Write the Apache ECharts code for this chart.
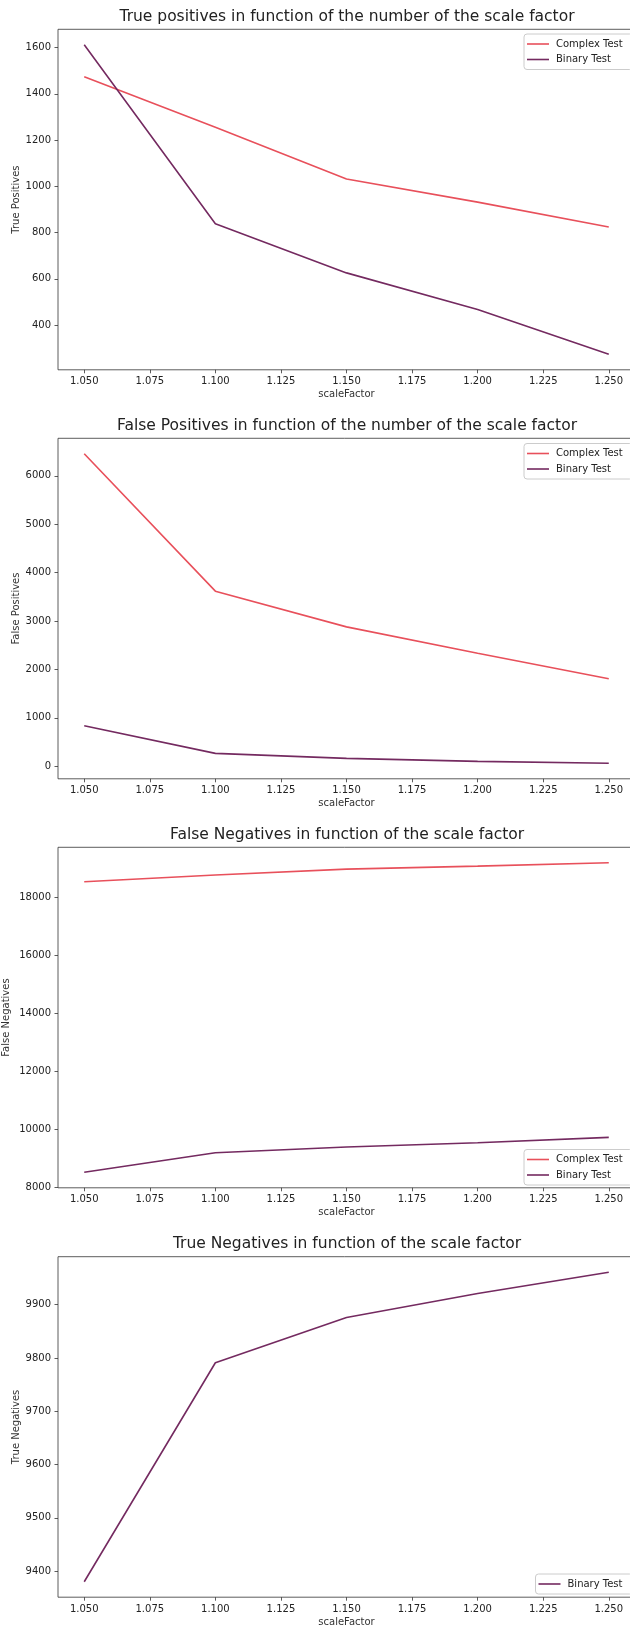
<!DOCTYPE html>
<html>
<head>
<meta charset="utf-8">
<script src="https://cdn.jsdelivr.net/npm/echarts@6/dist/echarts.min.js"></script>
<style>
html,body{margin:0;padding:0;background:#fff;}
#c{width:630px;height:1628px;}
</style>
</head>
<body>
<div id="c"></div>
<script>
// ---- data ----
const scaleFactor = [1.05, 1.10, 1.15, 1.20, 1.25];
const tpComplex = [1474, 1255, 1032, 932, 824];
const tpBinary  = [1612, 838, 626, 468, 274];
const fpComplex = [6454, 3617, 2880, 2335, 1810];
const fpBinary  = [839, 268, 165, 103, 62];
const fnComplex = [18539, 18769, 18975, 19079, 19193];
const fnBinary  = [8520, 9197, 9392, 9541, 9725];
const tnBinary  = [9380, 9791, 9876, 9921, 9961];

const xTicks   = [1.05, 1.075, 1.1, 1.125, 1.15, 1.175, 1.2, 1.225, 1.25];
const tpTicks  = [400, 600, 800, 1000, 1200, 1400, 1600];
const fpTicks  = [0, 1000, 2000, 3000, 4000, 5000, 6000];
const fnTicks  = [8000, 10000, 12000, 14000, 16000, 18000];
const tnTicks  = [9400, 9500, 9600, 9700, 9800, 9900];

const titles = [
  'True positives in function of the number of the scale factor',
  'False Positives in function of the number of the scale factor',
  'False Negatives in function of the scale factor',
  'True Negatives in function of the scale factor'
];
const yNames = ['True Positives', 'False Positives', 'False Negatives', 'True Negatives'];
const seriesNames = ['Complex Test', 'Binary Test'];

// ---- layout / style ----
const FONT = 'DejaVu Sans';
const colorComplex = '#e8505b';
const colorBinary = '#742a60';
const gridLeft = 58, gridWidth = 577, gridHeight = 340.5;
const gridTops = [29.3, 438.3, 847.3, 1256.7];
const yNameGaps = [36.5, 36.5, 46.3, 36.5];

const panels = [
  {series: [[tpComplex, 0], [tpBinary, 1]], ticks: tpTicks},
  {series: [[fpComplex, 0], [fpBinary, 1]], ticks: fpTicks},
  {series: [[fnComplex, 0], [fnBinary, 1]], ticks: fnTicks},
  {series: [[tnBinary, 1]], ticks: tnTicks}
];

function limits(arrs) {
  let lo = Infinity, hi = -Infinity;
  arrs.forEach(a => a.forEach(v => { lo = Math.min(lo, v); hi = Math.max(hi, v); }));
  const m = (hi - lo) * 0.05;
  return [lo - m, hi + m];
}

const option = {
  animation: false,
  backgroundColor: '#fff',
  title: [], grid: [], xAxis: [], yAxis: [], series: [], legend: []
};

const legendPos = [
  {left: 524, top: 34},
  {left: 524, top: 443.5},
  {left: 524, top: 1149.5},
  {left: 535.5, top: 1574}
];

panels.forEach((p, i) => {
  const top = gridTops[i];
  option.title.push({
    text: titles[i], left: gridLeft + 577 / 2 + 0.5, textAlign: 'center',
    top: top - 12.5 - 8, padding: 0,
    textStyle: {fontFamily: FONT, fontSize: 15.5, fontWeight: 'normal', color: '#222', lineHeight: 16}
  });
  option.grid.push({
    left: gridLeft, top: top, width: gridWidth, height: gridHeight,
    containLabel: false, outerBoundsMode: 'none',
    show: true, borderColor: '#333', borderWidth: 0.8, backgroundColor: 'transparent'
  });
  const axisText = {fontFamily: FONT, fontSize: 10, color: '#222'};
  option.xAxis.push({
    type: 'value', gridIndex: i, min: 1.04, max: 1.26,
    name: 'scaleFactor', nameLocation: 'middle', nameGap: 20, nameMoveOverlap: false,
    nameTextStyle: Object.assign({}, axisText, {color: '#333'}),
    axisLine: {show: false, onZero: false},
    axisTick: {show: true, length: 3.5, lineStyle: {color: '#333', width: 0.8}, customValues: xTicks},
    axisLabel: Object.assign({margin: 7, customValues: xTicks, formatter: v => v.toFixed(3)}, axisText),
    splitLine: {show: false}
  });
  const lim = limits(p.series.map(s => s[0]));
  option.yAxis.push({
    type: 'value', gridIndex: i, min: lim[0], max: lim[1],
    name: yNames[i], nameLocation: 'middle', nameGap: yNameGaps[i], nameMoveOverlap: false,
    nameTextStyle: Object.assign({}, axisText, {color: '#333'}),
    axisLine: {show: false, onZero: false},
    axisTick: {show: true, length: 3.5, lineStyle: {color: '#333', width: 0.8}, customValues: p.ticks},
    axisLabel: Object.assign({margin: 7, customValues: p.ticks, formatter: v => String(Math.round(v))}, axisText),
    splitLine: {show: false}
  });
  p.series.forEach(([vals, k]) => {
    option.series.push({
      type: 'line', name: seriesNames[k], xAxisIndex: i, yAxisIndex: i,
      data: scaleFactor.map((x, j) => [x, vals[j]]),
      showSymbol: false, symbol: 'none',
      lineStyle: {width: 1.6, color: k === 0 ? colorComplex : colorBinary},
      itemStyle: {color: k === 0 ? colorComplex : colorBinary},
      z: k === 0 ? 2 : 3
    });
  });
  option.legend.push({
    orient: 'vertical', left: legendPos[i].left, top: legendPos[i].top,
    padding: [4, 10, 4, 3], itemWidth: 22, itemHeight: 1.6, icon: 'rect', itemGap: 3.5,
    textStyle: {fontFamily: FONT, fontSize: 10, color: '#222', lineHeight: 12, padding: [0, 0, 0, 2]},
    borderColor: '#ccc', borderWidth: 1, borderRadius: 3,
    backgroundColor: 'rgba(255,255,255,0.8)',
    selectedMode: false,
    data: p.series.map(s => seriesNames[s[1]])
  });
});

const chart = echarts.init(document.getElementById('c'), null, {renderer: 'canvas'});
chart.setOption(option);
</script>
</body>
</html>
